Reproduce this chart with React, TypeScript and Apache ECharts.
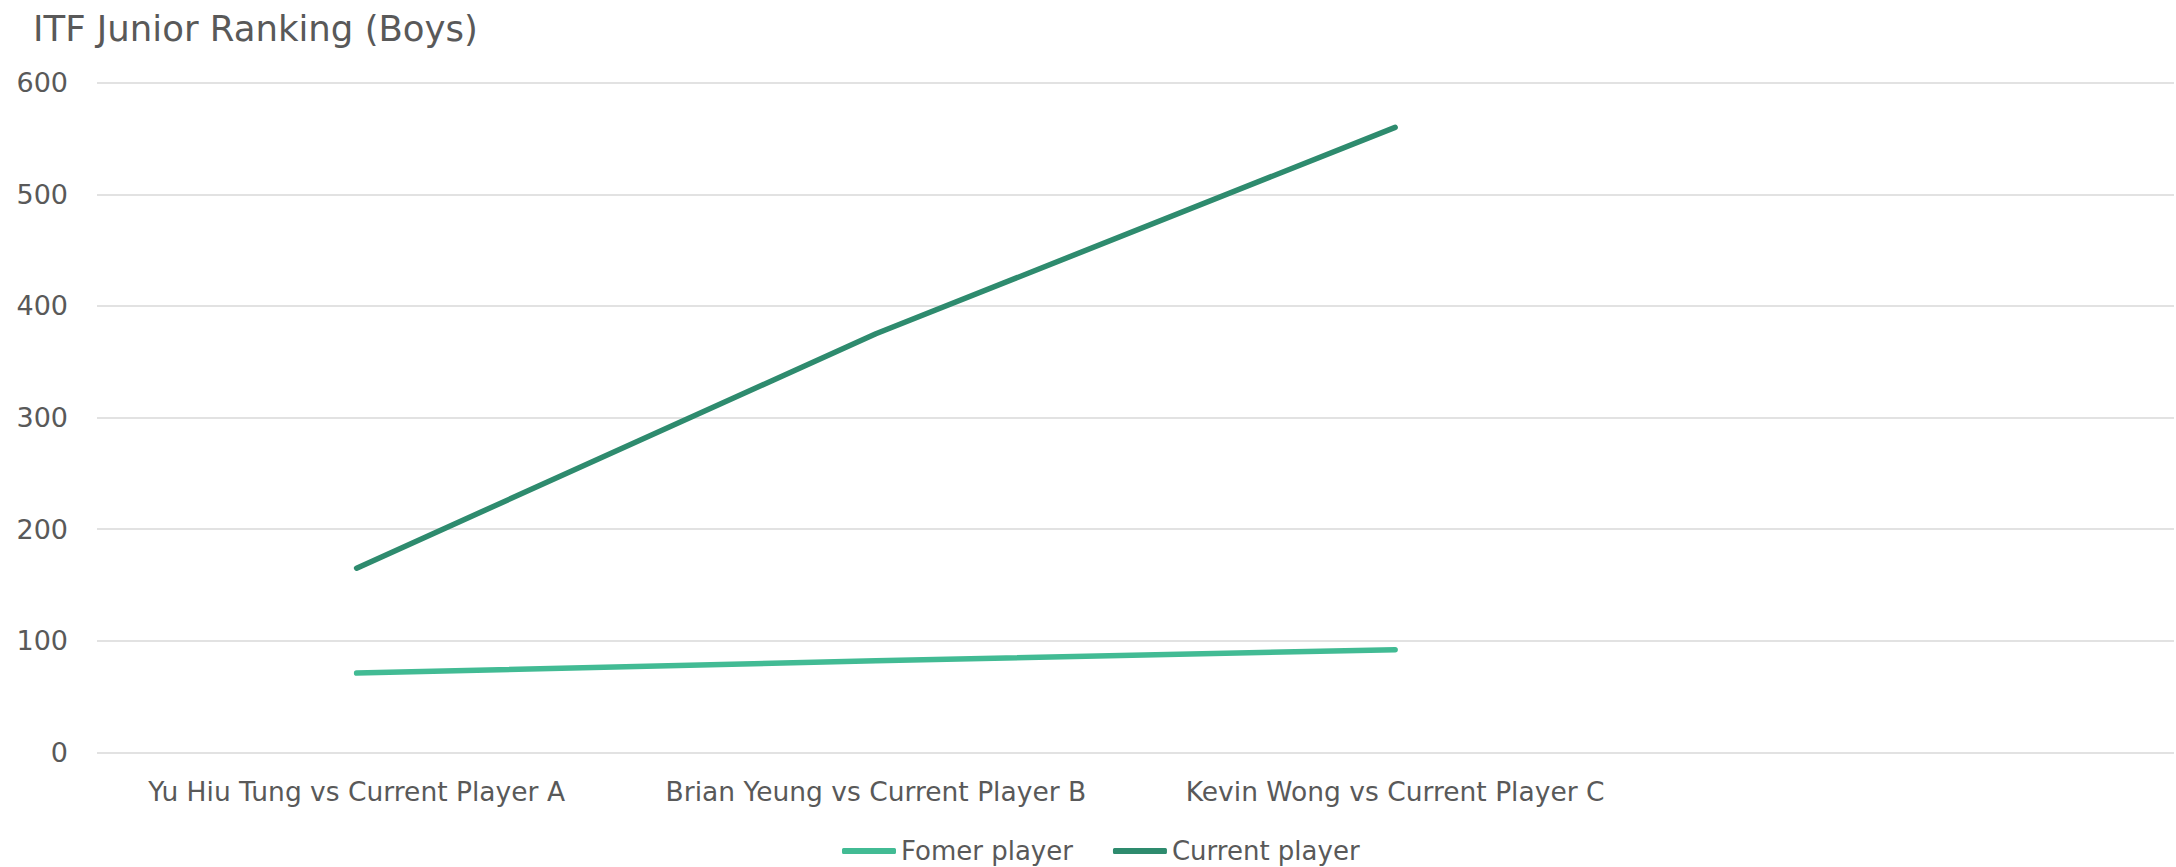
import React, { useEffect, useRef } from "react";
import * as echarts from "echarts";

const categories = [
  "Yu Hiu Tung vs Current Player A",
  "Brian Yeung vs Current Player B",
  "Kevin Wong vs Current Player C",
  "",
];
const formerPlayer = [71, 82, 92];
const currentPlayer = [165, 375, 560];
const seriesNames = ["Fomer player", "Current player"];
const titleText = "ITF Junior Ranking (Boys)";

const FONT = "DejaVu Sans";
const TEXT = "#595959";

export default function App() {
  const ref = useRef<HTMLDivElement>(null);
  useEffect(() => {
    if (!ref.current) return;
    const chart = echarts.init(ref.current, undefined, { renderer: "svg" });
    chart.setOption({
      animation: false,
      backgroundColor: "#ffffff",
      title: {
        text: titleText,
        left: 28,
        top: 5,
        textStyle: { fontFamily: FONT, fontSize: 35.5, fontWeight: "normal", color: TEXT },
      },
      legend: {
        left: 837,
        top: 833,
        itemWidth: 54,
        itemHeight: 6,
        itemGap: 40,
        icon: "roundRect",
        data: seriesNames,
        textStyle: { fontFamily: FONT, fontSize: 26, color: TEXT },
      },
      grid: { left: 97, right: 2, top: 82.7, bottom: 114.7, containLabel: false },
      xAxis: {
        type: "category",
        data: categories,
        boundaryGap: true,
        axisLine: { show: false },
        axisTick: { show: false },
        axisLabel: {
          interval: 0,
          margin: 26,
          fontFamily: FONT,
          fontSize: 26.5,
          color: TEXT,
        },
      },
      yAxis: {
        type: "value",
        min: 0,
        max: 600,
        interval: 100,
        axisLine: { show: false },
        axisTick: { show: false },
        axisLabel: { margin: 29, fontFamily: FONT, fontSize: 27, color: TEXT },
        splitLine: { lineStyle: { color: "#d9d9d9", width: 1.5 } },
      },
      series: [
        {
          name: seriesNames[0],
          type: "line",
          data: formerPlayer,
          symbol: "none",
          color: "#42bb94",
          lineStyle: { width: 5.5, color: "#42bb94", cap: "round", join: "round" },
        },
        {
          name: seriesNames[1],
          type: "line",
          data: currentPlayer,
          symbol: "none",
          color: "#2e8b6e",
          lineStyle: { width: 5.5, color: "#2e8b6e", cap: "round", join: "round" },
        },
      ],
    });
    return () => chart.dispose();
  }, []);
  return (
    <div
      ref={ref}
      style={{ position: "fixed", left: 0, top: 0, width: 2176, height: 867, background: "#fff" }}
    />
  );
}
